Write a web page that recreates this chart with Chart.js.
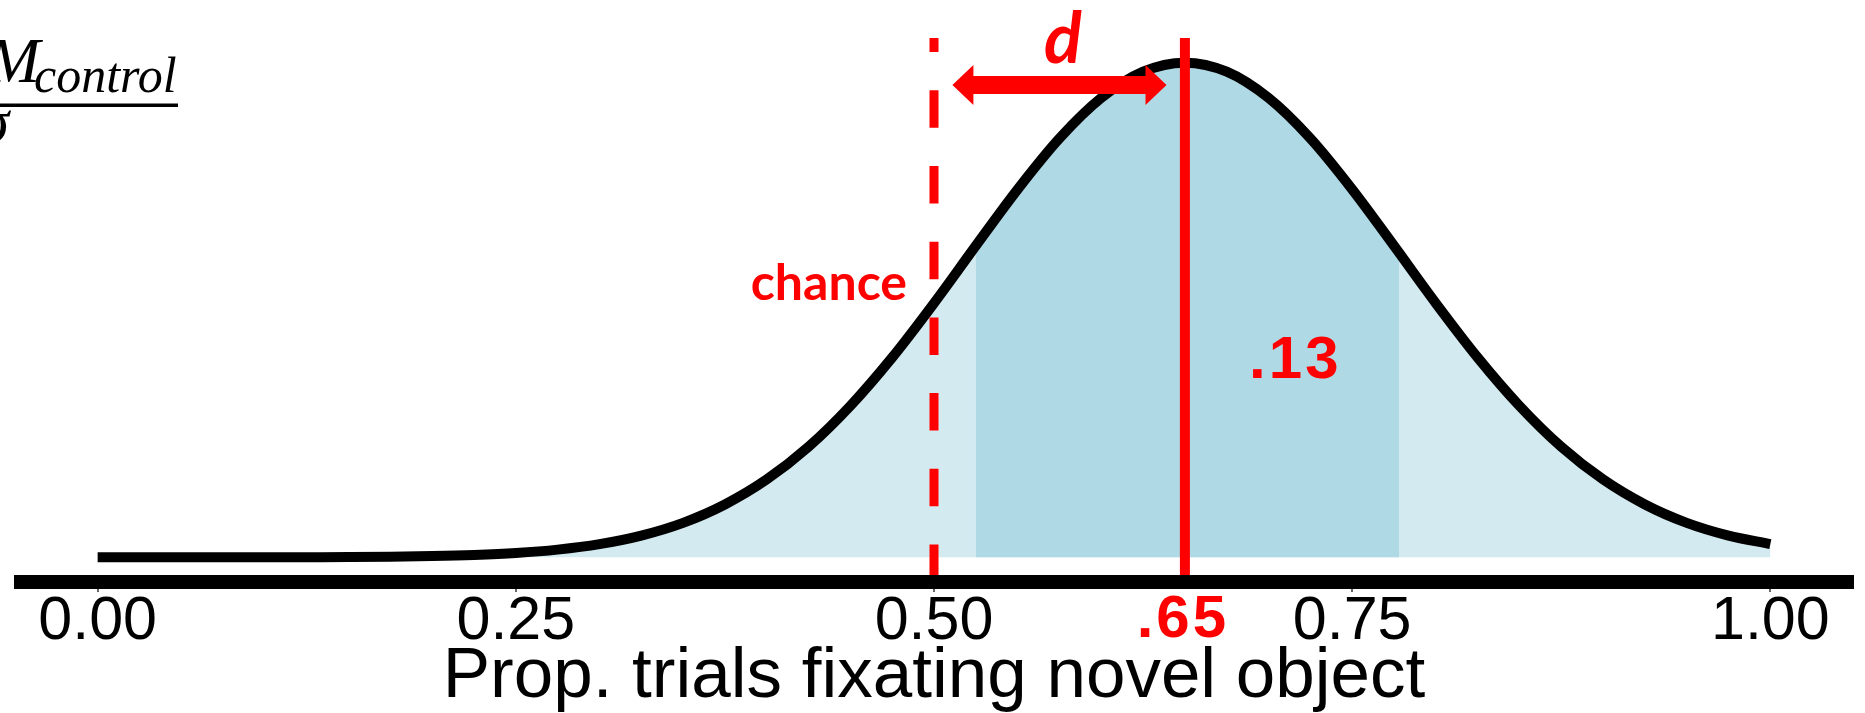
<!DOCTYPE html>
<html>
<head>
<meta charset="utf-8">
<script src="https://cdn.jsdelivr.net/npm/chart.js@4.4.1/dist/chart.umd.min.js"></script>
<style>
  html, body { margin: 0; padding: 0; background: #ffffff; }
  canvas { display: block; }
</style>
</head>
<body>
<canvas id="c" width="1865" height="713"></canvas>
<script>
// Proportion of trials (x) and the density of the sampling distribution at each point (y)
const propX = [0, 0.025, 0.05, 0.075, 0.1, 0.125, 0.15, 0.175, 0.2, 0.225, 0.25, 0.275, 0.3, 0.325,
  0.35, 0.375, 0.4, 0.425, 0.45, 0.475, 0.5, 0.525, 0.55, 0.575, 0.6, 0.625, 0.65, 0.675, 0.7,
  0.725, 0.75, 0.775, 0.8, 0.825, 0.85, 0.875, 0.9, 0.925, 0.95, 0.975, 1];
const density = [0, 0, 0, 0, 0, 0.001, 0.002, 0.004, 0.008, 0.015, 0.027, 0.048, 0.082, 0.135,
  0.214, 0.328, 0.483, 0.686, 0.940, 1.240, 1.577, 1.933, 2.283, 2.599, 2.850, 3.013, 3.069, 3.013, 2.850,
  2.599, 2.283, 1.933, 1.577, 1.240, 0.940, 0.686, 0.483, 0.328, 0.214, 0.135, 0.082];

// Shaded band of one standard deviation around the mean
const bandX = [0.525, 0.55, 0.575, 0.6, 0.625, 0.65, 0.675, 0.7, 0.725, 0.75, 0.775, 0.778];
const bandDensity = [1.933, 2.283, 2.599, 2.850, 3.013, 3.069, 3.013, 2.850, 2.599, 2.283, 1.933, 1.890];

// Axis ticks
const tickValues = [0, 0.25, 0.5, 0.75, 1];
const tickLabels = ['0.00', '0.25', '0.50', '0.75', '1.00'];

// Reference values
const chanceLevel = 0.5;
const meanProp = 0.65;
const sdProp = 0.13;
const arrowSpan = [0.511, 0.639];
const arrowLevel = 2.93;

// Axis ranges
const xRange = [-0.05, 1.05];
const yRange = [-0.153, 3.222];

const RED = '#ff0000';
const SANS = '"Liberation Sans", Arial, Helvetica, sans-serif';
const HUMANIST = 'Lato, "Open Sans", sans-serif';
const SERIF = '"Liberation Serif", "DejaVu Serif", serif';

const toPoints = (xs, ys) => xs.map((x, i) => ({ x: x, y: ys[i] }));
const shortDecimal = v => v.toFixed(2).replace(/^0/, '');

const overlay = {
  id: 'overlay',
  afterDatasetsDraw(chart) {
    const ctx = chart.ctx;
    const xs = chart.scales.x;
    const ys = chart.scales.y;
    ctx.save();

    // heavy x-axis line
    ctx.fillStyle = '#000000';
    ctx.fillRect(xs.left, xs.top - 7, xs.right - xs.left, 14);

    // double-headed arrow between chance and the mean
    const ax1 = xs.getPixelForValue(arrowSpan[0]);
    const ax2 = xs.getPixelForValue(arrowSpan[1]);
    const ay = ys.getPixelForValue(arrowLevel);
    const hl = 21, hh = 20, sh = 9;
    ctx.fillStyle = RED;
    ctx.beginPath();
    ctx.moveTo(ax1, ay);
    ctx.lineTo(ax1 + hl, ay - hh);
    ctx.lineTo(ax1 + hl, ay - sh);
    ctx.lineTo(ax2 - hl, ay - sh);
    ctx.lineTo(ax2 - hl, ay - hh);
    ctx.lineTo(ax2, ay);
    ctx.lineTo(ax2 - hl, ay + hh);
    ctx.lineTo(ax2 - hl, ay + sh);
    ctx.lineTo(ax1 + hl, ay + sh);
    ctx.lineTo(ax1 + hl, ay + hh);
    ctx.closePath();
    ctx.fill();

    // "d" above the arrow
    ctx.textAlign = 'center';
    ctx.textBaseline = 'alphabetic';
    ctx.font = 'italic bold 70px ' + HUMANIST;
    ctx.fillText('d', xs.getPixelForValue(0.577), ys.getPixelForValue(3.07));

    // chance label
    ctx.textAlign = 'right';
    ctx.font = 'bold 50px ' + HUMANIST;
    ctx.fillText('chance', xs.getPixelForValue(chanceLevel) - 27, ys.getPixelForValue(1.596));

    // SD label inside the band
    ctx.textAlign = 'center';
    ctx.font = 'bold 60px ' + SANS;
    if ('letterSpacing' in ctx) ctx.letterSpacing = '3px';
    ctx.fillText(shortDecimal(sdProp), xs.getPixelForValue(0.716), ys.getPixelForValue(1.112));

    // mean value under the axis
    ctx.fillText(shortDecimal(meanProp), xs.getPixelForValue(meanProp) - 2, xs.top + 55);
    if ('letterSpacing' in ctx) ctx.letterSpacing = '0px';

    ctx.restore();
  },
  afterDraw(chart) {
    // fraction in the upper-left corner
    const ctx = chart.ctx;
    ctx.save();
    ctx.fillStyle = '#000000';
    ctx.textBaseline = 'alphabetic';
    ctx.textAlign = 'right';
    ctx.font = 'italic 64px ' + SERIF;
    ctx.fillText('M', 40, 82);
    ctx.textAlign = 'left';
    ctx.font = 'italic 50px ' + SERIF;
    ctx.fillText('control', 34, 92);
    ctx.fillRect(0, 103.5, 178, 3.5);
    ctx.textAlign = 'right';
    ctx.font = 'italic 62px ' + SERIF;
    ctx.fillText('\u03C3', 9, 142);
    ctx.restore();
  }
};

new Chart(document.getElementById('c'), {
  type: 'line',
  data: {
    datasets: [
      {
        label: 'chance',
        data: [{ x: chanceLevel, y: yRange[0] }, { x: chanceLevel, y: yRange[1] }],
        borderColor: RED,
        borderWidth: 9,
        borderDash: [37.5, 38.2],
        borderCapStyle: 'butt',
        pointRadius: 0,
        tension: 0,
        fill: false,
        order: 0
      },
      {
        label: 'mean',
        data: [{ x: meanProp, y: yRange[0] }, { x: meanProp, y: yRange[1] }],
        borderColor: RED,
        borderWidth: 10,
        borderCapStyle: 'butt',
        pointRadius: 0,
        tension: 0,
        fill: false,
        order: 0
      },
      {
        label: 'density',
        data: toPoints(propX, density),
        borderColor: '#000000',
        borderWidth: 10,
        borderCapStyle: 'butt',
        borderJoinStyle: 'round',
        cubicInterpolationMode: 'monotone',
        pointRadius: 0,
        fill: false,
        order: 1
      },
      {
        label: 'band',
        data: toPoints(bandX, bandDensity),
        borderColor: 'rgba(0,0,0,0)',
        borderWidth: 1,
        backgroundColor: '#b0d9e6',
        cubicInterpolationMode: 'monotone',
        pointRadius: 0,
        fill: 'origin',
        order: 2
      },
      {
        label: 'area',
        data: toPoints(propX, density),
        borderColor: 'rgba(0,0,0,0)',
        borderWidth: 1,
        backgroundColor: '#d4eaf1',
        cubicInterpolationMode: 'monotone',
        pointRadius: 0,
        fill: 'origin',
        order: 3
      }
    ]
  },
  options: {
    responsive: false,
    animation: false,
    devicePixelRatio: 1,
    layout: { padding: { left: 14, right: 11, top: 38, bottom: 0 } },
    plugins: {
      legend: { display: false },
      tooltip: { enabled: false }
    },
    scales: {
      x: {
        type: 'linear',
        position: 'bottom',
        min: xRange[0],
        max: xRange[1],
        afterBuildTicks: scale => { scale.ticks = tickValues.map(v => ({ value: v })); },
        afterFit: scale => { scale.height = 131; },
        border: { display: false },
        grid: {
          display: true,
          drawOnChartArea: false,
          drawTicks: true,
          tickLength: 10,
          color: '#666666',
          lineWidth: 2
        },
        ticks: {
          autoSkip: false,
          maxRotation: 0,
          minRotation: 0,
          padding: 0,
          color: '#000000',
          font: { family: SANS, size: 61, lineHeight: 1 },
          callback: (value, index) => tickLabels[index]
        },
        title: {
          display: true,
          text: 'Prop. trials fixating novel object',
          color: '#000000',
          font: { family: SANS, size: 71, lineHeight: 1 },
          padding: { top: 0, bottom: 0 }
        }
      },
      y: {
        type: 'linear',
        display: false,
        min: yRange[0],
        max: yRange[1]
      }
    }
  },
  plugins: [overlay]
});
</script>
</body>
</html>
